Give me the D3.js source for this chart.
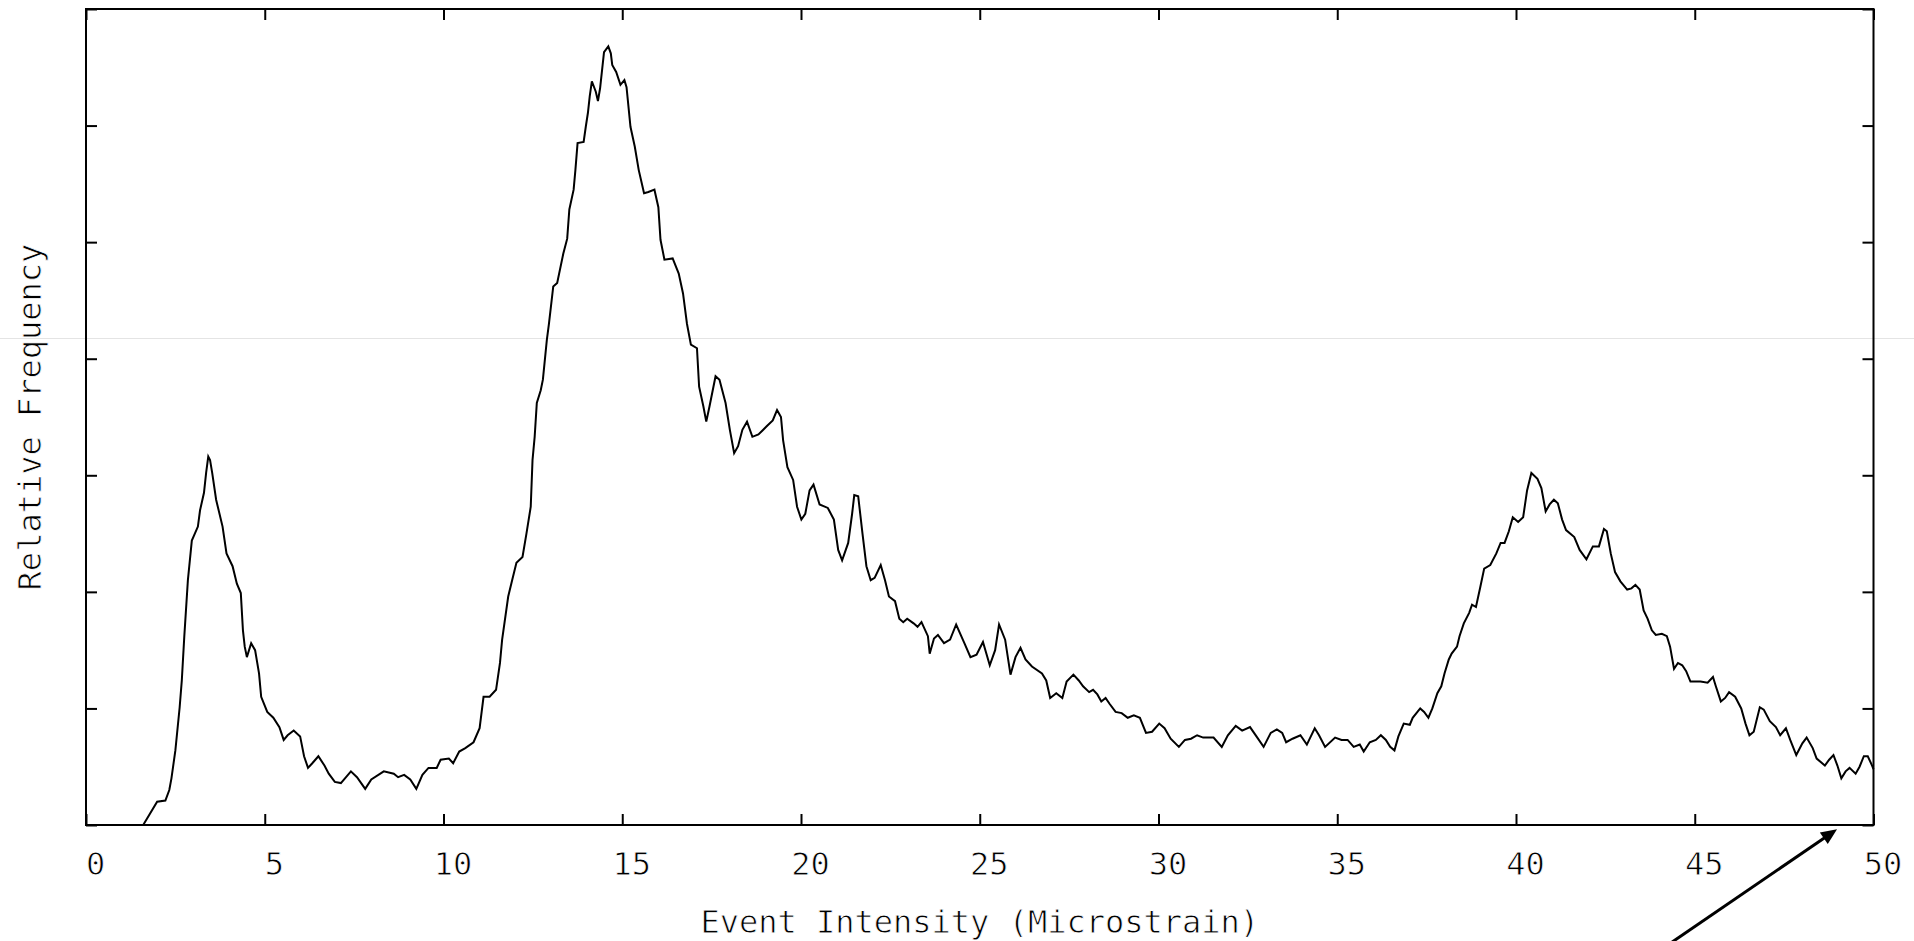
<!DOCTYPE html>
<html>
<head>
<meta charset="utf-8">
<script src="https://cdn.jsdelivr.net/npm/d3@7"></script>
<style>
  body { margin: 0; background: #fff; }
  svg { display: block; }
  text { font-family: "DejaVu Sans Mono", monospace; font-size: 32px; fill: #000; stroke: #fff; stroke-width: 0.8px; }
</style>
</head>
<body>
<div id="chart"></div>
<script>
// event intensity (microstrain) along the curve
var intensity = [
  1.60, 1.99, 2.22, 2.33, 2.39, 2.50, 2.62, 2.68, 2.75, 2.85, 2.96, 3.13, 3.19, 3.30, 3.36, 3.42,
  3.47, 3.53, 3.64, 3.82, 3.93, 4.10, 4.22, 4.33, 4.39, 4.44, 4.50, 4.62, 4.73, 4.84, 4.90, 5.07,
  5.24, 5.41, 5.53, 5.64, 5.81, 5.99, 6.10, 6.21, 6.33, 6.50, 6.67, 6.79, 6.96, 7.13, 7.41, 7.58,
  7.81, 7.98, 8.33, 8.61, 8.73, 8.90, 9.07, 9.24, 9.41, 9.58, 9.81, 9.92, 10.15, 10.27, 10.44, 10.61,
  10.84, 11.01, 11.12, 11.29, 11.47, 11.58, 11.64, 11.81, 11.92, 12.04, 12.21, 12.32, 12.44, 12.49, 12.55, 12.61,
  12.72, 12.78, 12.89, 12.95, 13.07, 13.18, 13.35, 13.46, 13.52, 13.64, 13.69, 13.75, 13.92, 13.98, 14.04, 14.09,
  14.15, 14.26, 14.32, 14.38, 14.49, 14.61, 14.68, 14.72, 14.83, 14.95, 15.06, 15.12, 15.23, 15.35, 15.46, 15.61,
  15.73, 15.90, 16.01, 16.07, 16.18, 16.41, 16.58, 16.70, 16.81, 16.92, 17.09, 17.15, 17.27, 17.35, 17.44, 17.61,
  17.72, 17.89, 18.01, 18.13, 18.24, 18.36, 18.49, 18.64, 18.81, 19.04, 19.21, 19.33, 19.44, 19.50, 19.62, 19.78,
  19.89, 20.01, 20.12, 20.24, 20.35, 20.52, 20.75, 20.92, 21.04, 21.15, 21.32, 21.43, 21.49, 21.60, 21.72, 21.83,
  21.95, 22.06, 22.23, 22.35, 22.46, 22.63, 22.75, 22.86, 22.97, 23.15, 23.26, 23.37, 23.55, 23.60, 23.72, 23.83,
  24.00, 24.17, 24.34, 24.57, 24.74, 24.91, 25.09, 25.28, 25.43, 25.54, 25.71, 25.86, 26.00, 26.14, 26.28, 26.46,
  26.74, 26.86, 26.97, 27.14, 27.31, 27.43, 27.62, 27.77, 27.89, 28.06, 28.17, 28.29, 28.40, 28.52, 28.63, 28.80,
  28.97, 29.14, 29.31, 29.48, 29.65, 29.82, 30.02, 30.17, 30.34, 30.57, 30.74, 30.91, 31.08, 31.25, 31.54, 31.77,
  31.94, 32.16, 32.34, 32.56, 32.74, 32.94, 33.14, 33.31, 33.46, 33.57, 33.75, 33.97, 34.15, 34.37, 34.49, 34.66,
  34.94, 35.12, 35.29, 35.46, 35.63, 35.74, 35.91, 36.08, 36.22, 36.36, 36.48, 36.60, 36.71, 36.86, 37.03, 37.11,
  37.32, 37.43, 37.55, 37.66, 37.80, 37.91, 38.00, 38.12, 38.20, 38.35, 38.42, 38.54, 38.69, 38.77, 38.88, 39.00,
  39.11, 39.28, 39.45, 39.57, 39.68, 39.80, 39.91, 40.06, 40.20, 40.31, 40.43, 40.60, 40.71, 40.83, 40.94, 41.06,
  41.17, 41.29, 41.40, 41.63, 41.78, 41.97, 42.15, 42.32, 42.46, 42.54, 42.65, 42.77, 42.92, 43.11, 43.23, 43.34,
  43.46, 43.57, 43.68, 43.80, 43.91, 44.08, 44.22, 44.31, 44.42, 44.53, 44.65, 44.76, 44.88, 45.16, 45.36, 45.51,
  45.59, 45.73, 45.85, 45.96, 46.13, 46.30, 46.42, 46.53, 46.65, 46.82, 46.93, 47.10, 47.27, 47.39, 47.55, 47.67,
  47.84, 48.01, 48.13, 48.30, 48.41, 48.64, 48.76, 48.88, 48.99, 49.10, 49.22, 49.33, 49.50, 49.61, 49.73, 49.84,
  49.96, 50.00
];

// relative frequency (no units, tick spacing = 1)
var frequency = [
  0.00, 0.20, 0.21, 0.30, 0.40, 0.64, 1.01, 1.24, 1.62, 2.10, 2.44, 2.56, 2.70, 2.85, 3.02, 3.16,
  3.13, 3.02, 2.79, 2.56, 2.33, 2.22, 2.07, 1.99, 1.67, 1.53, 1.44, 1.56, 1.50, 1.30, 1.10, 0.97,
  0.92, 0.84, 0.73, 0.77, 0.81, 0.76, 0.59, 0.49, 0.53, 0.59, 0.51, 0.44, 0.37, 0.36, 0.46, 0.41,
  0.31, 0.39, 0.46, 0.44, 0.41, 0.43, 0.39, 0.31, 0.43, 0.49, 0.49, 0.56, 0.57, 0.53, 0.63, 0.66,
  0.71, 0.83, 1.10, 1.10, 1.16, 1.39, 1.59, 1.96, 2.10, 2.25, 2.30, 2.50, 2.73, 3.13, 3.33, 3.62,
  3.73, 3.82, 4.16, 4.30, 4.62, 4.65, 4.90, 5.03, 5.28, 5.45, 5.62, 5.85, 5.86, 5.99, 6.11, 6.25,
  6.38, 6.29, 6.21, 6.32, 6.63, 6.68, 6.62, 6.52, 6.46, 6.35, 6.39, 6.33, 5.99, 5.82, 5.62, 5.42,
  5.43, 5.45, 5.30, 5.02, 4.85, 4.86, 4.73, 4.56, 4.30, 4.12, 4.09, 3.76, 3.59, 3.46, 3.59, 3.85,
  3.82, 3.62, 3.39, 3.19, 3.25, 3.39, 3.46, 3.33, 3.35, 3.42, 3.47, 3.56, 3.50, 3.30, 3.07, 2.96,
  2.73, 2.62, 2.67, 2.87, 2.92, 2.75, 2.72, 2.62, 2.36, 2.27, 2.42, 2.67, 2.83, 2.82, 2.50, 2.22,
  2.10, 2.12, 2.23, 2.10, 1.96, 1.92, 1.77, 1.74, 1.77, 1.73, 1.70, 1.74, 1.62, 1.47, 1.60, 1.63,
  1.56, 1.59, 1.72, 1.56, 1.44, 1.46, 1.57, 1.37, 1.50, 1.72, 1.59, 1.29, 1.44, 1.52, 1.42, 1.36,
  1.30, 1.24, 1.09, 1.13, 1.09, 1.23, 1.29, 1.24, 1.19, 1.14, 1.16, 1.12, 1.06, 1.09, 1.04, 0.97,
  0.96, 0.92, 0.94, 0.92, 0.79, 0.80, 0.87, 0.83, 0.74, 0.67, 0.73, 0.74, 0.77, 0.75, 0.75, 0.67,
  0.77, 0.85, 0.81, 0.84, 0.76, 0.67, 0.79, 0.82, 0.79, 0.71, 0.74, 0.77, 0.69, 0.83, 0.77, 0.67,
  0.75, 0.73, 0.73, 0.67, 0.69, 0.63, 0.71, 0.73, 0.77, 0.73, 0.67, 0.64, 0.76, 0.87, 0.86, 0.92,
  1.00, 0.97, 0.92, 1.00, 1.13, 1.19, 1.30, 1.42, 1.47, 1.53, 1.62, 1.73, 1.82, 1.89, 1.87, 2.04,
  2.20, 2.23, 2.33, 2.42, 2.42, 2.52, 2.64, 2.60, 2.64, 2.87, 3.02, 2.97, 2.89, 2.69, 2.75, 2.79,
  2.76, 2.62, 2.53, 2.47, 2.36, 2.28, 2.39, 2.39, 2.54, 2.52, 2.33, 2.17, 2.09, 2.02, 2.03, 2.06,
  2.02, 1.84, 1.77, 1.67, 1.63, 1.64, 1.62, 1.53, 1.34, 1.39, 1.37, 1.32, 1.23, 1.23, 1.22, 1.27,
  1.19, 1.06, 1.09, 1.14, 1.10, 1.00, 0.87, 0.77, 0.80, 1.01, 0.99, 0.89, 0.84, 0.77, 0.83, 0.73,
  0.60, 0.70, 0.75, 0.66, 0.57, 0.51, 0.56, 0.60, 0.51, 0.40, 0.46, 0.49, 0.44, 0.50, 0.59, 0.59,
  0.51, 0.48
];

var xTicks = [0, 5, 10, 15, 20, 25, 30, 35, 40, 45, 50];
var yTicks = [0, 1, 2, 3, 4, 5, 6, 7];

var xLabel = "Event Intensity (Microstrain)",
    yLabel = "Relative Frequency";

// arrow annotation in data units, drawn below the axis
var arrowFrom = [44.1, -1.06],
    arrowTo = [48.98, -0.037];

var W = 1914, H = 941;
var margin = {top: 9, right: 40.5, bottom: 116, left: 86},
    width = W - margin.left - margin.right,
    height = H - margin.top - margin.bottom;

var x = d3.scaleLinear().domain([0, 50]).range([0, width]);
var y = d3.scaleLinear().domain([0, 7]).range([height, 0]);

var svg = d3.select("#chart").append("svg")
    .attr("width", W)
    .attr("height", H);

svg.append("rect").attr("width", W).attr("height", H).attr("fill", "#fff");

// faint stray line across the whole picture
svg.append("line")
    .attr("x1", 0).attr("x2", W)
    .attr("y1", 338.5).attr("y2", 338.5)
    .attr("stroke", "#e4e4e4")
    .attr("stroke-width", 1);

var g = svg.append("g")
    .attr("transform", "translate(" + margin.left + "," + margin.top + ")");

var tick = 11;

var bottom = g.append("g")
    .attr("transform", "translate(0," + height + ")")
    .call(d3.axisBottom(x).tickValues(xTicks).tickSize(-tick).tickSizeOuter(0).tickFormat(d3.format("d")));

bottom.selectAll("text")
    .attr("y", 50)
    .attr("dy", null)
    .attr("dx", 9);

g.append("g")
    .call(d3.axisTop(x).tickValues(xTicks).tickSize(-tick).tickSizeOuter(0).tickFormat(""));

g.append("g")
    .call(d3.axisLeft(y).tickValues(yTicks).tickSize(-tick).tickSizeOuter(0).tickFormat(""));

g.append("g")
    .attr("transform", "translate(" + width + ",0)")
    .call(d3.axisRight(y).tickValues(yTicks).tickSize(-tick).tickSizeOuter(0).tickFormat(""));

g.selectAll(".domain").remove();
g.selectAll(".tick line").attr("stroke", "#000").attr("stroke-width", 2);
g.selectAll(".tick text").attr("fill", "#000")
    .style("font-family", "'DejaVu Sans Mono', monospace")
    .style("font-size", "32px");

var pts = intensity.map(function(d, i) { return [d, frequency[i]]; });

var line = d3.line()
    .x(function(d) { return x(d[0]); })
    .y(function(d) { return y(d[1]); });

g.append("path")
    .datum(pts)
    .attr("fill", "none")
    .attr("stroke", "#000")
    .attr("stroke-width", 2)
    .attr("d", line);

g.append("rect")
    .attr("width", width)
    .attr("height", height)
    .attr("fill", "none")
    .attr("stroke", "#000")
    .attr("stroke-width", 2);

g.append("text")
    .attr("x", width / 2)
    .attr("y", height + 108)
    .attr("text-anchor", "middle")
    .text(xLabel);

svg.append("text")
    .attr("transform", "translate(41," + (margin.top + height / 2) + ") rotate(-90)")
    .attr("text-anchor", "middle")
    .text(yLabel);

// arrow
var ax1 = x(arrowFrom[0]), ay1 = y(arrowFrom[1]),
    ax2 = x(arrowTo[0]), ay2 = y(arrowTo[1]);
var ang = Math.atan2(ay2 - ay1, ax2 - ax1),
    headLen = 16, headW = 7;

g.append("line")
    .attr("x1", ax1).attr("y1", ay1)
    .attr("x2", ax2 - Math.cos(ang) * headLen * 0.8)
    .attr("y2", ay2 - Math.sin(ang) * headLen * 0.8)
    .attr("stroke", "#000")
    .attr("stroke-width", 3);

var bx = ax2 - Math.cos(ang) * headLen,
    by = ay2 - Math.sin(ang) * headLen;
g.append("path")
    .attr("d", "M" + ax2 + "," + ay2 +
      "L" + (bx + Math.sin(ang) * headW) + "," + (by - Math.cos(ang) * headW) +
      "L" + (bx - Math.sin(ang) * headW) + "," + (by + Math.cos(ang) * headW) + "Z")
    .attr("fill", "#000");
</script>
</body>
</html>
